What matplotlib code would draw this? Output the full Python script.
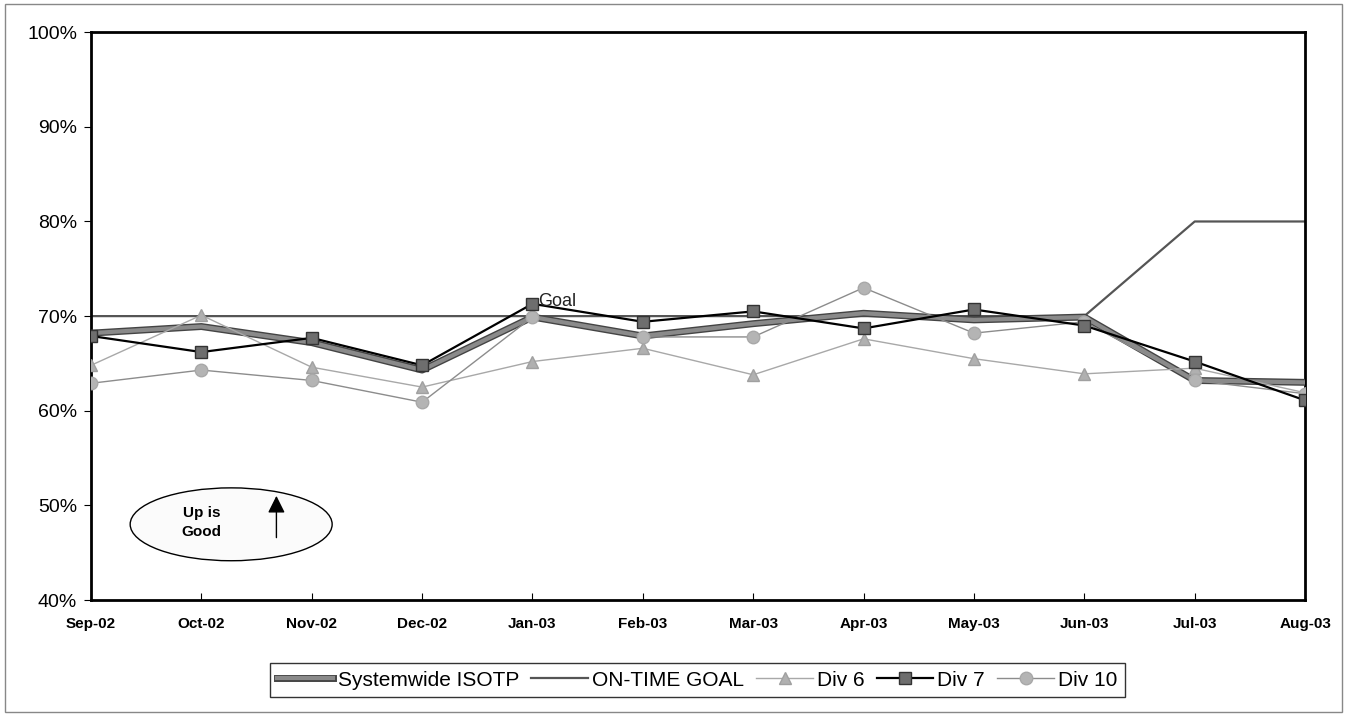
import matplotlib
matplotlib.use("Agg")
import matplotlib.pyplot as plt
from matplotlib.patches import Ellipse, Rectangle
import matplotlib.patheffects as pe

plt.rcParams['font.family'] = ['Liberation Sans', 'DejaVu Sans']

months = ['Sep-02', 'Oct-02', 'Nov-02', 'Dec-02', 'Jan-03', 'Feb-03',
          'Mar-03', 'Apr-03', 'May-03', 'Jun-03', 'Jul-03', 'Aug-03']
systemwide = [68.2, 68.9, 67.2, 64.3, 69.9, 67.9, 69.2, 70.3, 69.6, 69.9, 63.2, 63.0]
goal = [70, 70, 70, 70, 70, 70, 70, 70, 70, 70, 80, 80]
div6 = [64.8, 70.1, 64.6, 62.5, 65.2, 66.6, 63.8, 67.6, 65.5, 63.9, 64.5, 61.9]
div7 = [67.9, 66.2, 67.7, 64.8, 71.3, 69.4, 70.5, 68.7, 70.7, 69.0, 65.2, 61.1]
div10 = [62.9, 64.3, 63.2, 60.9, 69.9, 67.8, 67.8, 73.0, 68.2, 69.4, 63.2, 61.8]

x = list(range(len(months)))

fig = plt.figure(figsize=(13.46, 7.16), dpi=100)
ax = fig.add_axes([0.0676, 0.162, 0.902, 0.793])

# outer frame of the chart area
fig.patches.append(Rectangle((0.004, 0.006), 0.993, 0.989, transform=fig.transFigure,
                             fill=False, edgecolor='#888888', lw=1))

ax.plot(x, systemwide, color='#8a8a8a', lw=3, label='Systemwide ISOTP', zorder=3,
        path_effects=[pe.Stroke(linewidth=5, foreground='#444444'), pe.Normal()])
ax.plot(x, goal, color='#555555', lw=1.6, label='ON-TIME GOAL', zorder=2)
ax.plot(x, div6, color='#a8a8a8', lw=1, marker='^', ms=9, mfc='#b0b0b0',
        mec='#a0a0a0', label='Div 6', zorder=4)
ax.plot(x, div7, color='black', lw=1.6, marker='s', ms=9, mfc='#6e6e6e',
        mec='#333333', label='Div 7', zorder=5)
ax.plot(x, div10, color='#8c8c8c', lw=1, marker='o', ms=9, mfc='#b4b4b4',
        mec='#a8a8a8', label='Div 10', zorder=4)

ax.text(4.05, 71.1, 'Goal', fontsize=13, color='#222222', zorder=6)

ax.set_xlim(0, len(months) - 1)
ax.set_ylim(40, 100)
ax.set_xticks(x)
ax.set_xticklabels(months, fontsize=11, fontweight='bold')
ax.set_yticks(range(40, 101, 10))
ax.set_yticklabels([f'{v}%' for v in range(40, 101, 10)], fontsize=14)
ax.tick_params(axis='x', direction='in', length=5, pad=12)
ax.tick_params(axis='y', direction='out', length=5, pad=5)
for s in ax.spines.values():
    s.set_linewidth(2)
    s.set_color('black')

# "Up is Good" callout
ell = Ellipse((1.27, 48.0), 1.83, 7.7, facecolor='#fbfbfb', edgecolor='black', lw=1, zorder=6)
ax.add_patch(ell)
ax.text(1.0, 48.2, 'Up is\nGood', fontsize=11, fontweight='bold', ha='center',
        va='center', linespacing=1.5, zorder=7)
ax.annotate('', xy=(1.68, 51.3), xytext=(1.68, 46.3),
            arrowprops=dict(arrowstyle='-|>', mutation_scale=26, color='black', lw=1),
            zorder=7)

leg = fig.legend(loc='center', bbox_to_anchor=(0.518, 0.05), ncol=5, fontsize=15,
                 frameon=True, fancybox=False, edgecolor='black', handlelength=2.7,
                 columnspacing=0.6, handletextpad=0.2, borderpad=0.35)
leg.get_frame().set_linewidth(1)

fig.savefig('out.png', dpi=100)
